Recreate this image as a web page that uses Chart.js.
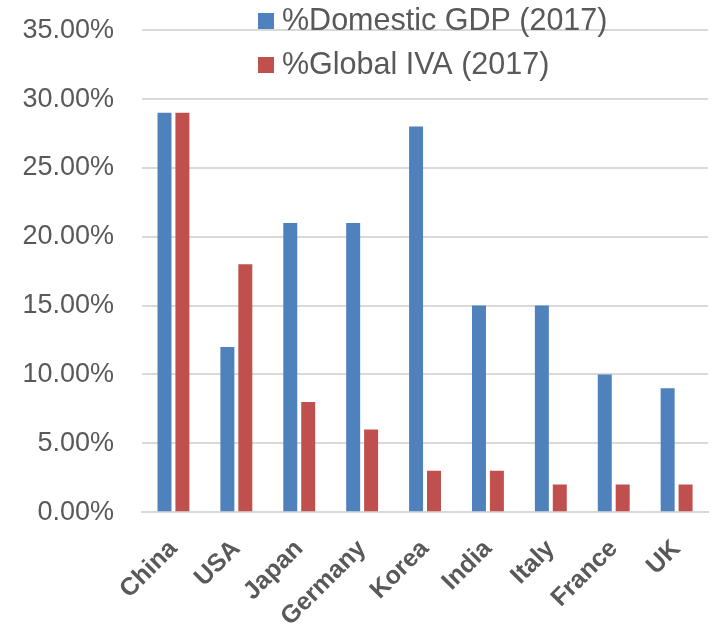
<!DOCTYPE html>
<html>
<head>
<meta charset="utf-8">
<script src="https://cdn.jsdelivr.net/npm/chart.js@4/dist/chart.umd.min.js"></script>
<style>
    html, body { margin: 0; padding: 0; background: #fff; }
    #wrap { width: 712px; height: 627px; overflow: hidden; }
    /* chart.js keeps extra room above the top tick, so lift the canvas a bit */
    #shareChart { display: block; margin-top: -14px; }
</style>
</head>
<body>
<div id="wrap"><canvas id="shareChart" width="712" height="660"></canvas></div>
<script>
const countries = ['China', 'USA', 'Japan', 'Germany', 'Korea', 'India', 'Italy', 'France', 'UK'];
const domesticGdp = [29, 12, 21, 21, 28, 15, 15, 10, 9];
const globalIva = [29, 18, 8, 6, 3, 3, 2, 2, 2];
const seriesNames = ['%Domestic GDP (2017)', '%Global IVA (2017)'];

const textColor = '#595959';
const gridColor = '#d9d9d9';
const fontFamily = '"Liberation Sans", Arial, sans-serif';
const canvasShift = 14;

// legend sits inside the plot, stacked, near the top
const stackedLegend = {
    id: 'stackedLegend',
    afterDraw(chart) {
        const ctx = chart.ctx;
        ctx.save();
        ctx.font = '30.5px ' + fontFamily;
        ctx.textBaseline = 'middle';
        chart.data.datasets.forEach((ds, i) => {
            const y = canvasShift + 21 + i * 44;
            ctx.fillStyle = ds.backgroundColor;
            ctx.fillRect(258, y - 8, 16, 16);
            ctx.fillStyle = textColor;
            ctx.fillText(ds.label, 282, y + 1);
        });
        ctx.restore();
    }
};

new Chart(document.getElementById('shareChart').getContext('2d'), {
    type: 'bar',
    data: {
        labels: countries,
        datasets: [{
            label: seriesNames[0],
            data: domesticGdp,
            backgroundColor: '#4f81bd'
        }, {
            label: seriesNames[1],
            data: globalIva,
            backgroundColor: '#c0504d'
        }]
    },
    options: {
        responsive: false,
        animation: false,
        categoryPercentage: 0.57,
        barPercentage: 0.78,
        layout: { padding: { top: 4, right: 3, left: 20, bottom: 0 } },
        plugins: {
            legend: { display: false },
            tooltip: { enabled: false }
        },
        scales: {
            x: {
                grid: { display: false },
                border: { color: gridColor, width: 2 },
                ticks: {
                    color: textColor,
                    font: { family: fontFamily, size: 25, weight: 'bold' },
                    minRotation: 45,
                    maxRotation: 45,
                    padding: 14
                }
            },
            y: {
                min: 0,
                max: 35,
                border: { display: false },
                grid: { color: gridColor, lineWidth: 2, drawTicks: false },
                afterFit(axis) { axis.width = 122; },
                ticks: {
                    stepSize: 5,
                    color: textColor,
                    padding: 28,
                    font: { family: fontFamily, size: 27 },
                    callback: v => v.toFixed(2) + '%'
                }
            }
        }
    },
    plugins: [stackedLegend]
});
</script>
</body>
</html>
